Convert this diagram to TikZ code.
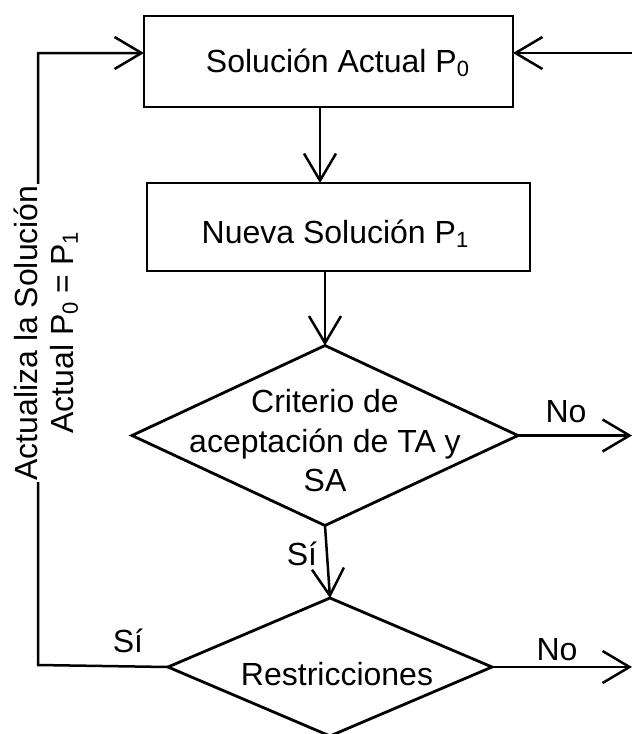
\documentclass[tikz,border=0pt]{standalone}
\usepackage{fontspec}
\setmainfont{Liberation Sans}
\usetikzlibrary{arrows.meta,shapes.geometric}
\newcommand{\sbs}[1]{\raisebox{-0.13em}{\fontsize{22}{22}\selectfont #1}}
\begin{document}
\begin{tikzpicture}[x=1pt,y=-1pt,
  every node/.style={font=\fontsize{32}{39.5}\selectfont},
  boxnode/.style={draw, line width=2.8pt, rectangle, inner sep=0pt, outer sep=0pt},
  decision/.style={draw, line width=2.8pt, diamond, inner sep=0pt, outer sep=0pt},
  conn/.style={line width=2.5pt, -{Straight Barb[length=27pt,width=32pt]}},
  lbl/.style={inner sep=0pt, anchor=base}]
\clip (0,0) rectangle (632,734);
\fill[white] (0,0) rectangle (632,734);
% boxes
\node[boxnode, minimum width=369pt, minimum height=91pt] (top) at (328.5,61.5) {};
\node[lbl] (toptext) at (337.5,72) {Solución Actual P\sbs{0}};
\node[boxnode, minimum width=383pt, minimum height=88pt] (box2) at (338.5,227) {};
\node[lbl] (box2text) at (335,243) {Nueva Solución P\sbs{1}};
% decisions
\node[decision, minimum width=386pt, minimum height=180pt] (d1) at (325,435.5) {};
\node[inner sep=0pt, align=center] (d1text) at (325,441) {Criterio de\\aceptación de TA y\\SA};
\node[decision, minimum width=324pt, minimum height=138pt] (d2) at (330,667) {};
\node[lbl] (d2text) at (337,685) {Restricciones};
% coordinates
\coordinate (c1) at (38,665);
\coordinate (c2) at (38,53);
\coordinate (r1) at (632,53);
\coordinate (a1) at (320,0);
\coordinate (rx) at (632,0);
% connectors
\draw[conn] (d2.west) -- (c1) -- (c2) -- (c2 -| top.west);
\draw[conn] (r1) -- (r1 -| top.east);
\draw[conn] (top.south -| a1) -- (box2.north -| a1);
\draw[conn] (box2.south -| d1.north) -- (d1.north);
\draw[conn] (d1.south) -- (d2.north);
\draw[conn] (d1.east) -- (d1.east -| rx);
\draw[conn] (d2.east) -- (d2.east -| rx);
% labels
\node[lbl] (no1) at (566,422) {No};
\node[lbl] (no2) at (557,660) {No};
\node[lbl] (si1) at (302,565) {Sí};
\node[lbl] (si2) at (128,652) {Sí};
\node[rotate=90, fill=white, align=center, inner sep=1pt, font=\fontsize{32}{36}\selectfont] (upd) at (46,333) {Actualiza la Solución\\Actual P\sbs{0} = P\sbs{1}};
\end{tikzpicture}
\end{document}
